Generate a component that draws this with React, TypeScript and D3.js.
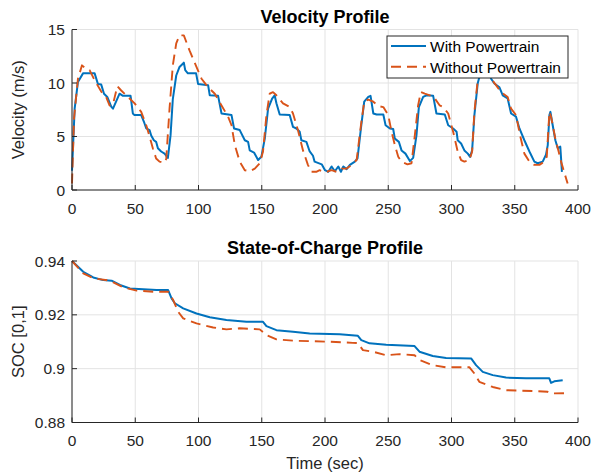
import React from "react";
import * as d3 from "d3";

// ---------- DATA ----------
const xTicks = [0, 50, 100, 150, 200, 250, 300, 350, 400];
const velTicks = [0, 5, 10, 15];
const socTicks = [0.88, 0.9, 0.92, 0.94];
const socTickLabels = ["0.88", "0.9", "0.92", "0.94"];
const seriesNames = ["With Powertrain", "Without Powertrain"];

// velocity, with powertrain [time s, m/s]
const velWith: [number, number][] = [
  [0, 1.8], [2.1, 7.6], [4.7, 10.1], [8.7, 10.9], [17.9, 10.9], [20.5, 9.9], [23.1, 9.85], [25.3, 9.0],
  [27.9, 8.7], [31, 7.8], [32.4, 7.6], [35, 8.3], [37.6, 9.0], [40.3, 8.8], [46.3, 8.8], [48.1, 7.15],
  [49.4, 7.0], [54.7, 7.0], [56.8, 6.4], [58.7, 5.75], [61.3, 5.6], [62.6, 5.1], [64.7, 4.65], [66.5, 4.5],
  [67.9, 3.9], [70.5, 3.6], [73.2, 3.4], [75.8, 3.0], [77.9, 5.1], [79.7, 8.5], [82.4, 10.7], [85, 11.5],
  [88.4, 11.9], [89.5, 11.2], [91.6, 10.9], [98.1, 10.9], [99.7, 9.9], [107.6, 9.8], [108.9, 8.85],
  [115.5, 8.8], [118.2, 7.15], [126.1, 7.0], [128.1, 5.75], [132.6, 5.6], [136.6, 4.65], [139.2, 4.5],
  [140.5, 3.7], [143.9, 3.5], [147.1, 2.8], [149.7, 3.1], [152.4, 4.8], [155, 7.6], [158.2, 8.55],
  [160.2, 8.85], [161.6, 8.1], [164.2, 7.05], [172.1, 7.0], [174.7, 5.9], [177.4, 5.75], [180, 5.45],
  [181.3, 4.65], [185.3, 4.5], [187.9, 3.6], [190.5, 3.2], [191.8, 2.65], [197.4, 2.4], [200, 1.85],
  [202.6, 1.7], [205.2, 2.2], [207.8, 1.75], [210.5, 2.2], [212.6, 1.7], [214.5, 2.2], [217.1, 1.95],
  [219.7, 2.35], [223.6, 2.65], [225.7, 2.95], [228.4, 5.75], [231, 8.25], [234.2, 8.7], [236, 8.8],
  [238.2, 7.15], [240.8, 7.05], [246.1, 7.05], [247.9, 6.05], [251.3, 5.75], [253.9, 5.7], [255.2, 4.8],
  [258.4, 4.5], [260.5, 3.7], [263.6, 3.4], [267.1, 2.7], [269.7, 3.0], [272.3, 5.1], [274.2, 7.75],
  [277.6, 8.7], [280.2, 8.85], [285.5, 8.8], [288.1, 7.15], [294.7, 7.05], [297.4, 6.05], [301.3, 5.75],
  [304, 5.45], [304.9, 4.65], [307.6, 4.35], [310.2, 3.7], [312.9, 3.4], [314.7, 3.1], [316.3, 3.7],
  [318.1, 7.0], [320.7, 9.95], [323.4, 11.2], [327, 11.4], [330, 10.9], [331.3, 10.4], [333.9, 9.95],
  [337.9, 9.6], [340.5, 8.85], [344.4, 8.55], [347.1, 7.15], [351, 6.85], [353.7, 5.75], [357.6, 4.65],
  [361.6, 3.6], [365.5, 2.65], [368.1, 2.5], [372.1, 2.65], [374.7, 3.3], [376.1, 4.2], [377.4, 7.0],
  [378.2, 7.3], [380, 6.05], [382.1, 4.65], [384, 3.9], [386, 4.05], [387.3, 1.7],
];

// velocity, without powertrain
const velWithout: [number, number][] = [
  [0, 0.6], [1.6, 6.7], [4.7, 10.4], [7.9, 11.65], [11.3, 11.3], [13.9, 11.2], [17.9, 10.25], [23.1, 9.2],
  [27, 8.7], [29.7, 7.9], [32.4, 8.0], [35.8, 9.7], [38.9, 9.3], [44.2, 8.7], [49.5, 8.1], [54.7, 7.3],
  [58.7, 6.05], [61.3, 5.0], [63.9, 3.9], [66.5, 2.95], [69.2, 2.65], [73.2, 2.55], [74.5, 2.9], [77.1, 7.6],
  [79.7, 11.65], [82.4, 13.7], [85, 14.45], [88.4, 14.45], [92.9, 13.05], [96.8, 11.95], [102.4, 10.4],
  [107.6, 9.6], [112.9, 9.0], [118.2, 7.9], [123.4, 6.85], [126.1, 6.05], [128.7, 4.2], [132.6, 2.65],
  [136.6, 1.85], [140.5, 1.75], [144.5, 2.0], [148.4, 2.5], [151, 3.6], [153.7, 7.0], [156.3, 9.0],
  [158.9, 9.15], [161.6, 8.85], [166.8, 8.1], [172.1, 7.75], [174.7, 7.15], [178.6, 5.6], [182.6, 3.7],
  [186.5, 2.35], [189.2, 1.7], [193.1, 1.7], [195.8, 1.85], [198.4, 1.7], [201.3, 1.7], [205.2, 1.85],
  [209.1, 1.7], [213.2, 2.0], [217.1, 2.0], [221, 2.35], [225, 2.8], [228.4, 6.05], [231, 8.25],
  [234.2, 8.45], [238.2, 8.25], [242.1, 7.85], [246.1, 7.75], [250, 7.0], [252.6, 5.45], [255.2, 4.2],
  [257.9, 3.1], [260.5, 2.65], [265.2, 2.4], [268.4, 2.5], [271, 5.1], [273.6, 7.9], [275.7, 9.15],
  [278.9, 9.0], [282.9, 8.85], [286.8, 8.55], [290.7, 7.9], [293.4, 7.75], [297.4, 7.15], [298.4, 6.7],
  [301.3, 5.45], [304.9, 3.6], [307.6, 2.8], [310.2, 2.65], [314.2, 2.8], [316.3, 3.6], [318.1, 7.3],
  [320.7, 10.25], [324, 11.6], [328, 11.3], [331.3, 10.4], [335.2, 9.8], [339.1, 9.15], [344.4, 8.7],
  [347.1, 7.6], [351, 7.0], [354.2, 5.1], [357.6, 3.4], [361.6, 2.65], [365.5, 2.35], [369.5, 2.35],
  [373.4, 2.65], [375.3, 3.1], [377.4, 7.3], [378.7, 6.85], [382.1, 4.8], [384.7, 3.6], [386.6, 2.65],
  [391.8, 0.6],
];

// state of charge, with powertrain
const socWith: [number, number][] = [
  [0, 0.94], [8.9, 0.936], [16.8, 0.9339], [24.7, 0.9329], [31.3, 0.9327], [37.9, 0.9311], [45.8, 0.9298],
  [56.3, 0.9295], [66.8, 0.9292], [76, 0.9292], [78.7, 0.9261], [81.3, 0.9243], [87.9, 0.9224],
  [98.4, 0.9205], [108.9, 0.9191], [122.1, 0.9181], [137.9, 0.9174], [151, 0.9174], [153.7, 0.9158],
  [161.6, 0.9143], [174.7, 0.9137], [187.9, 0.9131], [211.6, 0.9128], [226, 0.9122], [228.7, 0.9106],
  [235.2, 0.9094], [248.4, 0.9089], [270.8, 0.9084], [274.7, 0.9063], [285.2, 0.9047], [295.7, 0.904],
  [315.5, 0.9038], [319.4, 0.9013], [324.7, 0.8988], [332.6, 0.8976], [343.1, 0.8967], [358.9, 0.8964],
  [377.3, 0.8964], [378.7, 0.8947], [381.3, 0.8953], [387.9, 0.8957],
];

// state of charge, without powertrain
const socWithout: [number, number][] = [
  [0, 0.94], [8.9, 0.9354], [16.8, 0.9336], [30, 0.9327], [40.5, 0.9302], [51.1, 0.929], [64.2, 0.9286],
  [76, 0.9286], [80, 0.9255], [84, 0.9211], [87.9, 0.9187], [98.4, 0.9168], [111.6, 0.9153],
  [122.1, 0.9146], [132.6, 0.915], [148.4, 0.9146], [153.7, 0.9125], [161.6, 0.9109], [174.7, 0.9104],
  [203.7, 0.91], [222, 0.9096], [226, 0.9095], [230, 0.9069], [237.9, 0.9063], [248.4, 0.905],
  [258.9, 0.9054], [270.8, 0.905], [274.7, 0.9032], [285.2, 0.9013], [295.7, 0.9005], [314.2, 0.9005],
  [318.1, 0.8982], [322, 0.8951], [332.6, 0.8932], [343.1, 0.892], [364.2, 0.8917], [376, 0.8914],
  [378.7, 0.8908], [391.8, 0.8909],
];

// ---------- STYLE ----------
const W = 594;
const H = 476;
const BLUE = "#0072BD";
const ORANGE = "#D95319";
const AXIS = "#262626";
const GRID = "#e3e3e3";
const FONT = "'Liberation Sans', Arial, Helvetica, sans-serif";
const X0 = 72;
const X1 = 578;
const TICK_FS = 15.5;
const LABEL_FS = 16.5;
const TITLE_FS = 18;
const DASH = "10,6";

type PanelProps = {
  top: number;
  bottom: number;
  yDomain: [number, number];
  yTicks: number[];
  yTickLabels: string[];
  title: string;
  yLabel: string;
  a: [number, number][];
  b: [number, number][];
};

function Panel({ top, bottom, yDomain, yTicks, yTickLabels, title, yLabel, a, b }: PanelProps) {
  const x = d3.scaleLinear().domain([0, 400]).range([X0, X1]);
  const y = d3.scaleLinear().domain(yDomain).range([bottom, top]);
  const line = d3
    .line<[number, number]>()
    .x((d) => x(d[0]))
    .y((d) => y(d[1]));
  const tickLen = 5;
  return (
    <g>
      {xTicks.map((t) => (
        <line key={"gx" + t} x1={x(t)} x2={x(t)} y1={top} y2={bottom} stroke={GRID} strokeWidth={1} />
      ))}
      {yTicks.map((t) => (
        <line key={"gy" + t} x1={X0} x2={X1} y1={y(t)} y2={y(t)} stroke={GRID} strokeWidth={1} />
      ))}
      <path d={line(a) || ""} fill="none" stroke={BLUE} strokeWidth={2} strokeLinejoin="round" />
      <path
        d={line(b) || ""}
        fill="none"
        stroke={ORANGE}
        strokeWidth={1.9}
        strokeDasharray={DASH}
        strokeLinejoin="round"
      />
      <line x1={X0} x2={X1} y1={bottom} y2={bottom} stroke={AXIS} strokeWidth={1} />
      <line x1={X0} x2={X0} y1={top} y2={bottom} stroke={AXIS} strokeWidth={1} />
      {xTicks.map((t) => (
        <g key={"xt" + t}>
          <line x1={x(t)} x2={x(t)} y1={bottom} y2={bottom - tickLen} stroke={AXIS} strokeWidth={1} />
          <text x={x(t)} y={bottom + 23.5} textAnchor="middle" fontSize={TICK_FS} fill={AXIS} fontFamily={FONT}>
            {t}
          </text>
        </g>
      ))}
      {yTicks.map((t, i) => (
        <g key={"yt" + t}>
          <line x1={X0} x2={X0 + tickLen} y1={y(t)} y2={y(t)} stroke={AXIS} strokeWidth={1} />
          <text x={X0 - 7} y={y(t) + 5.5} textAnchor="end" fontSize={TICK_FS} fill={AXIS} fontFamily={FONT}>
            {yTickLabels[i]}
          </text>
        </g>
      ))}
      <text
        x={(X0 + X1) / 2}
        y={top - 7}
        textAnchor="middle"
        fontSize={TITLE_FS}
        fontWeight="bold"
        fill="#000"
        fontFamily={FONT}
      >
        {title}
      </text>
      <text
        transform={`translate(${24},${(top + bottom) / 2}) rotate(-90)`}
        textAnchor="middle"
        fontSize={LABEL_FS}
        fill={AXIS}
        fontFamily={FONT}
      >
        {yLabel}
      </text>
    </g>
  );
}

export default function App() {
  const lx = 387;
  const ly = 36;
  return (
    <svg
      width={W}
      height={H}
      viewBox={`0 0 ${W} ${H}`}
      style={{ position: "absolute", left: 0, top: 0, background: "#fff" }}
    >
      <rect width={W} height={H} fill="#fff" />
      <Panel
        top={29.5}
        bottom={190}
        yDomain={[0, 15]}
        yTicks={velTicks}
        yTickLabels={velTicks.map(String)}
        title="Velocity Profile"
        yLabel="Velocity (m/s)"
        a={velWith}
        b={velWithout}
      />
      <Panel
        top={261}
        bottom={422.5}
        yDomain={[0.88, 0.94]}
        yTicks={socTicks}
        yTickLabels={socTickLabels}
        title="State-of-Charge Profile"
        yLabel="SOC [0,1]"
        a={socWith}
        b={socWithout}
      />
      <text x={(X0 + X1) / 2} y={469} textAnchor="middle" fontSize={LABEL_FS} fill={AXIS} fontFamily={FONT}>
        Time (sec)
      </text>
      <g>
        <rect x={lx} y={ly} width={181} height={42} fill="#fff" stroke={AXIS} strokeWidth={1} />
        <line x1={lx + 4} x2={lx + 39} y1={ly + 10} y2={ly + 10} stroke={BLUE} strokeWidth={2} />
        <line
          x1={lx + 4}
          x2={lx + 39}
          y1={ly + 30.7}
          y2={ly + 30.7}
          stroke={ORANGE}
          strokeWidth={1.9}
          strokeDasharray={DASH}
        />
        <text x={lx + 43} y={ly + 16.3} fontSize={TICK_FS} fill="#000" fontFamily={FONT}>
          {seriesNames[0]}
        </text>
        <text x={lx + 43} y={ly + 36.7} fontSize={TICK_FS} fill="#000" fontFamily={FONT}>
          {seriesNames[1]}
        </text>
      </g>
    </svg>
  );
}
